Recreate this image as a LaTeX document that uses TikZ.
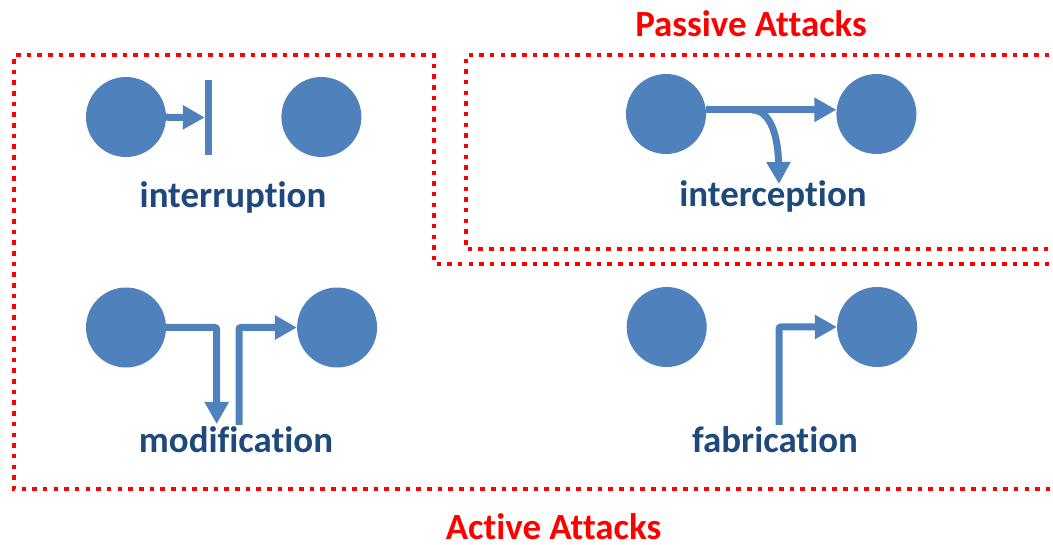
\documentclass[tikz,border=0pt]{standalone}
\usepackage{fontspec}
\setmainfont{Carlito}[Ligatures=CommonOff]
\usepackage{tikz}
\usetikzlibrary{positioning, arrows.meta}
\usepackage{xcolor}
\definecolor{nodeblue}{HTML}{4F81BD}
\definecolor{labelblue}{HTML}{1F497D}

\begin{document}
\begin{tikzpicture}[x=1pt, y=-1pt,
    party/.style={circle, fill=nodeblue, minimum size=80pt, inner sep=0pt},
    flow/.style={nodeblue, line width=7pt, -{Triangle[length=22pt,width=23pt]}},
    caption/.style={anchor=base, inner sep=0pt, text=labelblue, font=\fontsize{36.9}{44}\selectfont\bfseries},
    attackbox/.style={red, line width=4.6pt, dash pattern=on 4.6pt off 6.07pt},
    attacktitle/.style={anchor=base, inner sep=0pt, text=red, font=\fontsize{36.9}{44}\selectfont\bfseries}]
    \path[use as bounding box, clip] (0,0) rectangle (1053,545);

    % interruption
    \node[party] (ir-src) at (126,117) {};
    \node[party, right=115pt of ir-src] (ir-dst) {};
    \node[fill=nodeblue, minimum width=7pt, minimum height=75pt, inner sep=0pt] (ir-bar) at (208.5,117.5) {};
    \node[caption] (ir-text) at (233,208) {interruption};
    \draw[flow] (ir-src) -- (ir-bar);

    % interception
    \node[party] (ic-src) at (666,114) {};
    \node[party, right=130pt of ic-src] (ic-dst) {};
    \coordinate (ic-fork) at (752,110);
    \coordinate (ic-tap) at (779,184);
    \node[caption] (ic-text) at (773,207) {interception};
    \draw[flow] (ic-src.6) -- (ic-dst.174);
    \draw[flow] (ic-fork) .. controls (770,110) and (778,135) .. (ic-tap);

    % modification
    \node[party] (md-src) at (126,327.5) {};
    \node[party, right=130.7pt of md-src] (md-dst) {};
    \coordinate (md-cut) at (216.7,424);
    \coordinate (md-forge) at (239,425);
    \node[caption] (md-text) at (236,453) {modification};
    \draw[flow, rounded corners=2pt] (md-src) -| (md-cut);
    \draw[flow, rounded corners=2pt] (md-forge) |- (md-dst);

    % fabrication
    \node[party] (fb-src) at (666.7,327) {};
    \node[party, right=130pt of fb-src] (fb-dst) {};
    \coordinate (fb-forge) at (779,425);
    \node[caption] (fb-text) at (775,453) {fabrication};
    \draw[flow, rounded corners=2pt] (fb-forge) |- (fb-dst);

    % attack regions
    \draw[attackbox] (1060,264) -- (434,264) -- (434,55) -- (14,55) -- (14,489) -- (1060,489);
    \draw[attackbox] (1060,55) -- (466,55) -- (466,249) -- (1060,249);
    \node[attacktitle] (passive-title) at (751,37) {Passive Attacks};
    \node[attacktitle] (active-title) at (553.5,539.5) {Active Attacks};
\end{tikzpicture}
\end{document}
